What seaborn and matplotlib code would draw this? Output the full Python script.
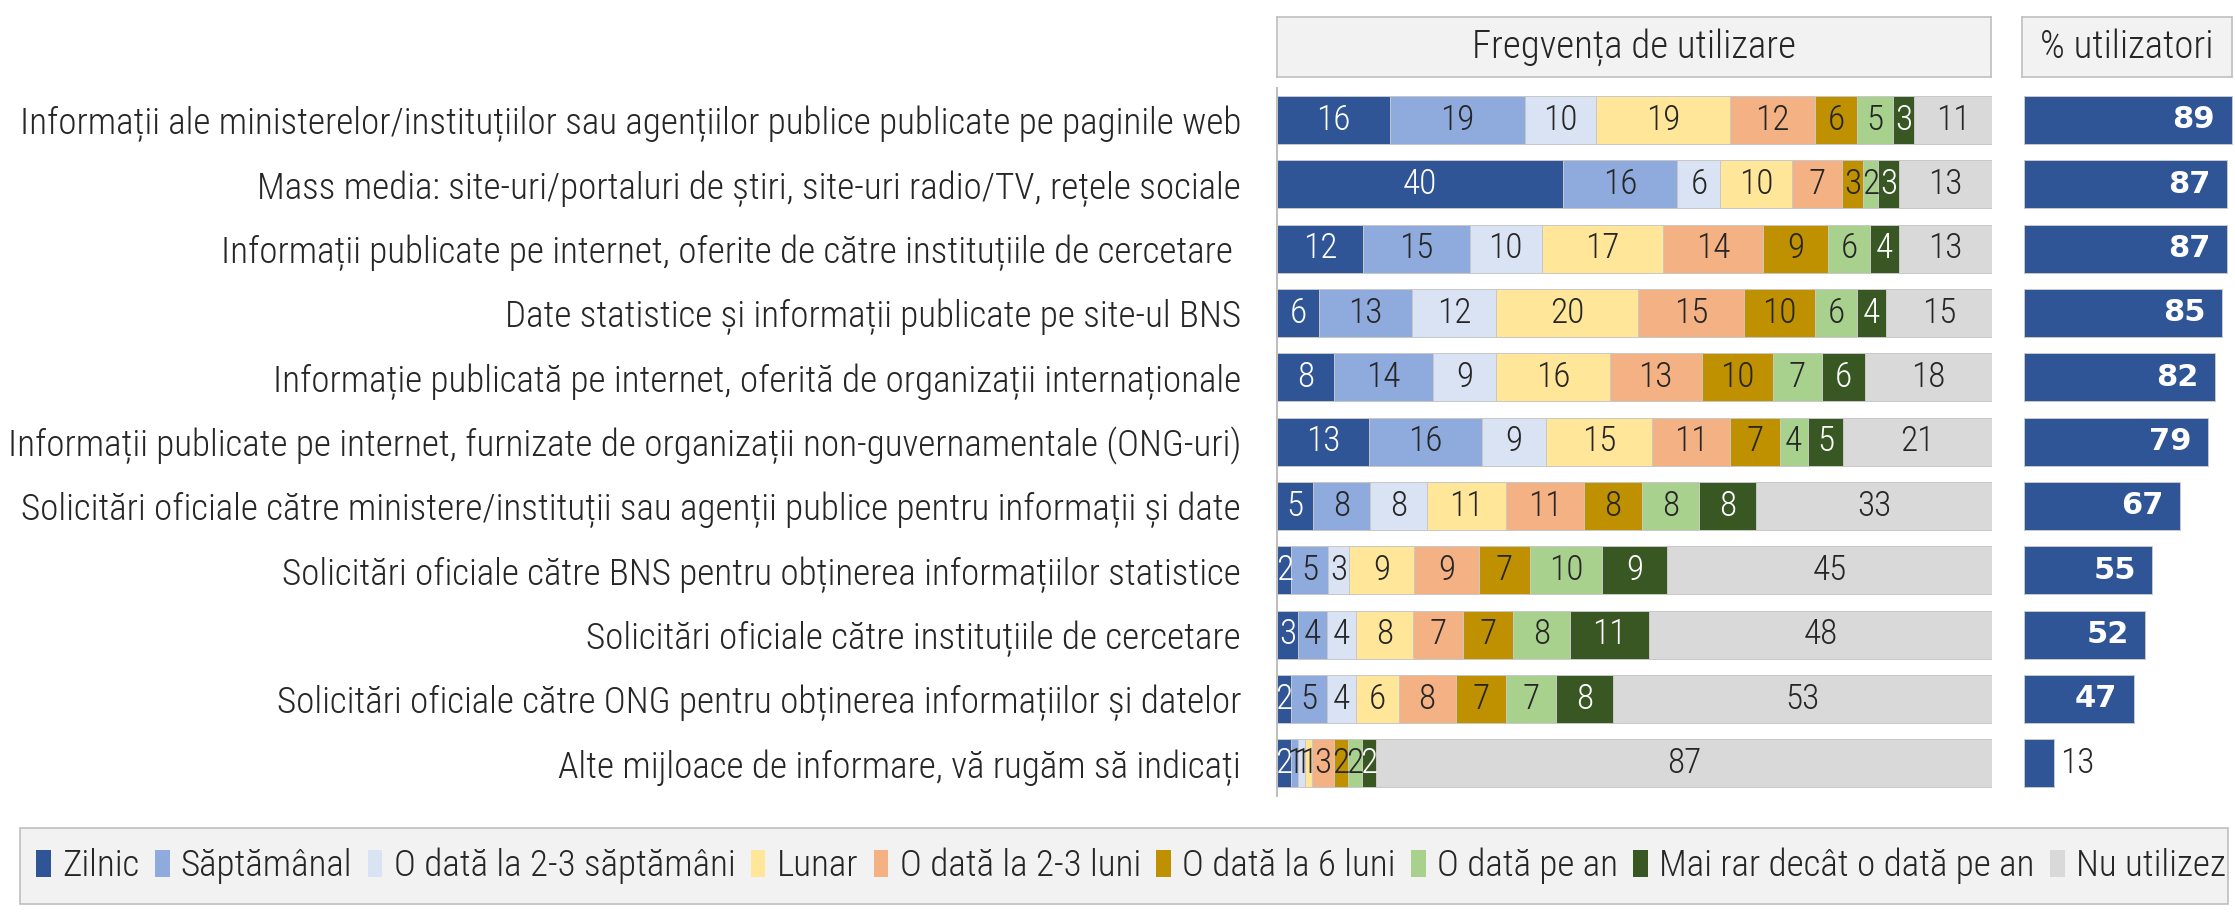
import numpy as np
import pandas as pd
import matplotlib
matplotlib.use("Agg")
import matplotlib.pyplot as plt
import seaborn as sns
from matplotlib import font_manager
from matplotlib.patches import Rectangle, Patch

# ---------------- data ----------------
categories = [
    "Informații ale ministerelor/instituțiilor sau agențiilor publice publicate pe paginile web",
    "Mass media: site-uri/portaluri de știri, site-uri radio/TV, rețele sociale",
    "Informații publicate pe internet, oferite de către instituțiile de cercetare ",
    "Date statistice și informații publicate pe site-ul BNS",
    "Informație publicată pe internet, oferită de organizații internaționale",
    "Informații publicate pe internet, furnizate de organizații non-guvernamentale (ONG-uri)",
    "Solicitări oficiale către ministere/instituții sau agenții publice pentru informații și date",
    "Solicitări oficiale către BNS pentru obținerea informațiilor statistice",
    "Solicitări oficiale către instituțiile de cercetare",
    "Solicitări oficiale către ONG pentru obținerea informațiilor și datelor",
    "Alte mijloace de informare, vă rugăm să indicați",
]
levels = ["Zilnic", "Săptămânal", "O dată la 2-3 săptămâni", "Lunar", "O dată la 2-3 luni",
          "O dată la 6 luni", "O dată pe an", "Mai rar decât o dată pe an", "Nu utilizez"]
zilnic      = [16, 40, 12, 6, 8, 13, 5, 2, 3, 2, 2]
saptamanal  = [19, 16, 15, 13, 14, 16, 8, 5, 4, 5, 1]
la_2_3_sapt = [10, 6, 10, 12, 9, 9, 8, 3, 4, 4, 1]
lunar       = [19, 10, 17, 20, 16, 15, 11, 9, 8, 6, 1]
la_2_3_luni = [12, 7, 14, 15, 13, 11, 11, 9, 7, 8, 3]
la_6_luni   = [6, 3, 9, 10, 10, 7, 8, 7, 7, 7, 2]
pe_an       = [5, 2, 6, 6, 7, 4, 8, 10, 8, 7, 2]
mai_rar     = [3, 3, 4, 4, 6, 5, 8, 9, 11, 8, 2]
nu_utilizez = [11, 13, 13, 15, 18, 21, 33, 45, 48, 53, 87]
utilizatori = [89, 87, 87, 85, 82, 79, 67, 55, 52, 47, 13]

colors = ["#2f5597", "#8faadc", "#dae3f3", "#ffe699", "#f4b183",
          "#bf9000", "#a9d18e", "#385723", "#d9d9d9"]
text_colors = ["white", "#262626", "#262626", "#262626", "#262626",
               "#262626", "#262626", "white", "#262626"]

# ---------------- style ----------------
sns.set_theme(style="white")
available = {f.name for f in font_manager.fontManager.ttflist}
family = "DejaVu Sans"
for cand in ["Liberation Sans Narrow", "Roboto Condensed", "Open Sans Condensed", "Roboto"]:
    if cand in available:
        family = cand
        break
plt.rcParams["font.family"] = [family, "DejaVu Sans"]
plt.rcParams["font.weight"] = "light"

W, H = 2235, 914
fig = plt.figure(figsize=(W / 100, H / 100), dpi=100)
renderer = fig.canvas.get_renderer()

def text_width(s, size, **kw):
    t = fig.text(0, 0, s, fontsize=size, **kw)
    w = t.get_window_extent(renderer).width
    t.remove()
    return w

base = 20
wmax = max(text_width(c, base) for c in categories)
fs = base * 1231 / wmax
fs_num = fs * 0.95

def fx(px):
    return px / W

def fy(py):
    return 1 - py / H

# ---------------- main stacked panel ----------------
ax = fig.add_axes([fx(1277), fy(795.5), fx(1992 - 1277), (795.5 - 87.8) / H])
df = pd.DataFrame(dict(zip(levels, [zilnic, saptamanal, la_2_3_sapt, lunar, la_2_3_luni,
                                    la_6_luni, pe_an, mai_rar, nu_utilizez])), index=categories)
share = df.div(df.sum(axis=1), axis=0) * 100
cum = share.cumsum(axis=1)

for k in reversed(range(len(levels))):
    sns.barplot(x=cum.iloc[:, k].values, y=categories, orient="h", color=colors[k],
                saturation=1, width=0.75, edgecolor="#c8c8c8", linewidth=0.7, ax=ax)

for i in range(len(categories)):
    for k in range(len(levels)):
        val = df.iloc[i, k]
        center = cum.iloc[i, k] - share.iloc[i, k] / 2
        ax.text(center, i, str(val), ha="center", va="center", color=text_colors[k],
                fontsize=fs_num)

ax.set_xlim(0, 100)
ax.set_ylim(len(categories) - 0.5, -0.5)
ax.set_xlabel("")
ax.set_ylabel("")
ax.set_xticks([])
for s in ["top", "right", "bottom"]:
    ax.spines[s].set_visible(False)
ax.spines["left"].set_color("#bfbfbf")
ax.spines["left"].set_linewidth(1.5)
ax.tick_params(axis="y", length=0, pad=26, labelsize=fs, labelcolor="#262626")

# ---------------- users panel ----------------
ax2 = fig.add_axes([fx(2024), fy(795.5), fx(210), (795.5 - 87.8) / H])
sns.barplot(x=utilizatori, y=categories, orient="h", color=colors[0], saturation=1,
            width=0.75, edgecolor="#c8c8c8", linewidth=0.7, ax=ax2)
for i, v in enumerate(utilizatori):
    if v >= 20:
        ax2.annotate(str(v), xy=(v, i), xytext=(-12, 0), textcoords="offset points",
                     ha="right", va="center", color="white", fontsize=22,
                     fontweight="bold", family="DejaVu Sans")
    else:
        ax2.annotate(str(v), xy=(v, i), xytext=(4, 0), textcoords="offset points",
                     ha="left", va="center", color="#262626", fontsize=fs_num)
ax2.set_xlim(0, 90)
ax2.set_ylim(len(categories) - 0.5, -0.5)
ax2.axis("off")

# ---------------- header boxes ----------------
def header(x0, x1, label):
    hax = fig.add_axes([fx(x0), fy(77), fx(x1 - x0), 60 / H])
    hax.set_facecolor("#f2f2f2")
    hax.set_xticks([])
    hax.set_yticks([])
    for s in hax.spines.values():
        s.set_color("#bfbfbf")
        s.set_linewidth(1.2)
    hax.text(0.5, 0.5, label, ha="center", va="center", fontsize=fs * 1.05,
             color="#262626", transform=hax.transAxes)

header(1277, 1991, "Fregvența de utilizare")
header(2022, 2232, "% utilizatori")

# ---------------- legend ----------------
fig.add_artist(Rectangle((fx(20), fy(904)), fx(2208), 76 / H, transform=fig.transFigure,
                         facecolor="#f2f2f2", edgecolor="#bfbfbf", linewidth=1.2, zorder=0))
handles = [Patch(facecolor=c, edgecolor="none") for c in colors]
fig.legend(handles, levels, ncol=len(levels), loc="center",
           bbox_to_anchor=(fx(36), fy(904), fx(2190), 76 / H), mode="expand",
           frameon=False, fontsize=fs, handlelength=0.4, handleheight=0.75,
           handletextpad=0.3, columnspacing=0.5, borderpad=0, borderaxespad=0,
           labelcolor="#262626")

fig.savefig("out.png", dpi=100)
